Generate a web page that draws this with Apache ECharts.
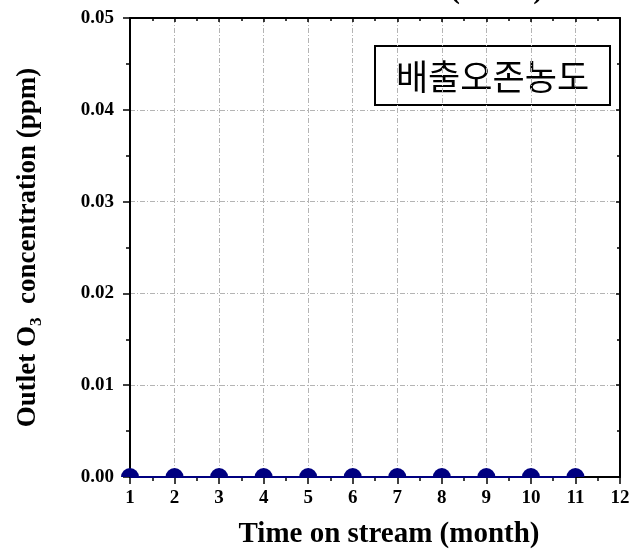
<!DOCTYPE html>
<html>
<head>
<meta charset="utf-8">
<script src="https://cdn.jsdelivr.net/npm/echarts@6/dist/echarts.min.js"></script>
<style>
  html, body { margin: 0; padding: 0; background: #fff; }
  #chart { width: 633px; height: 554px; }
</style>
</head>
<body>
<div id="chart"></div>
<script>
// Monthly outlet ozone readings
const months = [1, 2, 3, 4, 5, 6, 7, 8, 9, 10, 11];
const ozonePpm = [0, 0, 0, 0, 0, 0, 0, 0, 0, 0, 0];
const xRange = [1, 12];
const yRange = [0, 0.05];
const legendText = '배출오존농도';

const serif = '"Liberation Serif", "Times New Roman", serif';
const points = months.map((m, i) => [m, ozonePpm[i]]);
const navy = '#000080';
const gridLine = { show: true, lineStyle: { color: '#b4b4b4', width: 1, type: [5, 2, 1, 2] } };

const chart = echarts.init(document.getElementById('chart'), null, { renderer: 'canvas' });
chart.setOption({
  animation: false,
  backgroundColor: '#fff',
  grid: { left: 130, right: 13, top: 18, bottom: 75, containLabel: false },
  xAxis: [{
    type: 'value', position: 'bottom', min: xRange[0], max: xRange[1], interval: 1,
    name: 'Time on stream (month)', nameLocation: 'middle', nameGap: 43,
    nameTextStyle: { fontFamily: serif, fontWeight: 'bold', fontSize: 29, color: '#000', padding: [0, 0, 0, 28] },
    axisLine: { show: true, onZero: false, lineStyle: { color: '#000', width: 2 } },
    axisTick: { show: true, inside: false, length: 7, lineStyle: { color: '#000', width: 1.5 } },
    minorTick: { show: true, splitNumber: 2, length: 4, lineStyle: { color: '#000', width: 1.5 } },
    axisLabel: { fontFamily: serif, fontWeight: 'bold', fontSize: 19, color: '#000', margin: 12 },
    splitLine: gridLine
  }, {
    type: 'value', position: 'top', min: xRange[0], max: xRange[1], interval: 1,
    axisLine: { show: true, onZero: false, lineStyle: { color: '#000', width: 2 } },
    axisTick: { show: true, inside: true, length: 4, lineStyle: { color: '#000', width: 1.5 } },
    minorTick: { show: true, splitNumber: 2, length: 3, lineStyle: { color: '#000', width: 1.5 } },
    axisLabel: { show: false }, splitLine: { show: false }
  }],
  yAxis: [{
    type: 'value', position: 'left', min: yRange[0], max: yRange[1], interval: 0.01,
    name: 'Outlet O{sub|3}  concentration (ppm)', nameLocation: 'middle', nameGap: 85,
    nameTextStyle: {
      fontFamily: serif, fontWeight: 'bold', fontSize: 27, color: '#000',
      rich: { sub: { fontFamily: serif, fontWeight: 'bold', fontSize: 17, color: '#000', verticalAlign: 'bottom', padding: [16, 0, 0, 0] } }
    },
    axisLine: { show: true, onZero: false, lineStyle: { color: '#000', width: 2 } },
    axisTick: { show: true, inside: false, length: 7, lineStyle: { color: '#000', width: 1.5 } },
    minorTick: { show: true, splitNumber: 2, length: 4, lineStyle: { color: '#000', width: 1.5 } },
    axisLabel: { fontFamily: serif, fontWeight: 'bold', fontSize: 19, color: '#000', margin: 16,
      formatter: v => v.toFixed(2) },
    splitLine: gridLine
  }, {
    type: 'value', position: 'right', min: yRange[0], max: yRange[1], interval: 0.01,
    axisLine: { show: true, onZero: false, lineStyle: { color: '#000', width: 2 } },
    axisTick: { show: true, inside: true, length: 4, lineStyle: { color: '#000', width: 1.5 } },
    minorTick: { show: true, splitNumber: 2, length: 3, lineStyle: { color: '#000', width: 1.5 } },
    axisLabel: { show: false }, splitLine: { show: false }
  }],
  series: [{
    type: 'line', data: points, showSymbol: false, clip: false, z: 3,
    lineStyle: { color: navy, width: 2 }
  }, {
    // filled markers; only the half inside the plotting area is drawn
    type: 'custom', data: points, z: 4,
    renderItem: (params, api) => {
      const p = api.coord([api.value(0), api.value(1)]);
      return {
        type: 'sector',
        shape: { cx: p[0], cy: p[1], r0: 0, r: 9, startAngle: Math.PI, endAngle: 2 * Math.PI, clockwise: true },
        style: { fill: navy }
      };
    }
  }],
  graphic: [{
    type: 'text', left: 450, top: -25, z: 10,
    style: { text: '(outlet)', fontFamily: serif, fontWeight: 'bold', fontSize: 30, fill: '#000' }
  }, {
    type: 'group', left: 374, top: 45, z: 10,
    children: [{
      type: 'rect', shape: { x: 0, y: 0, width: 235, height: 59 },
      style: { fill: '#fff', stroke: '#000', lineWidth: 2 }
    }, {
      type: 'text', x: 117.5, y: 31,
      style: { text: legendText, fontFamily: '"Noto Sans CJK KR", sans-serif', fontSize: 35,
        fill: '#000', align: 'center', verticalAlign: 'middle' }
    }]
  }]
});
</script>
</body>
</html>
